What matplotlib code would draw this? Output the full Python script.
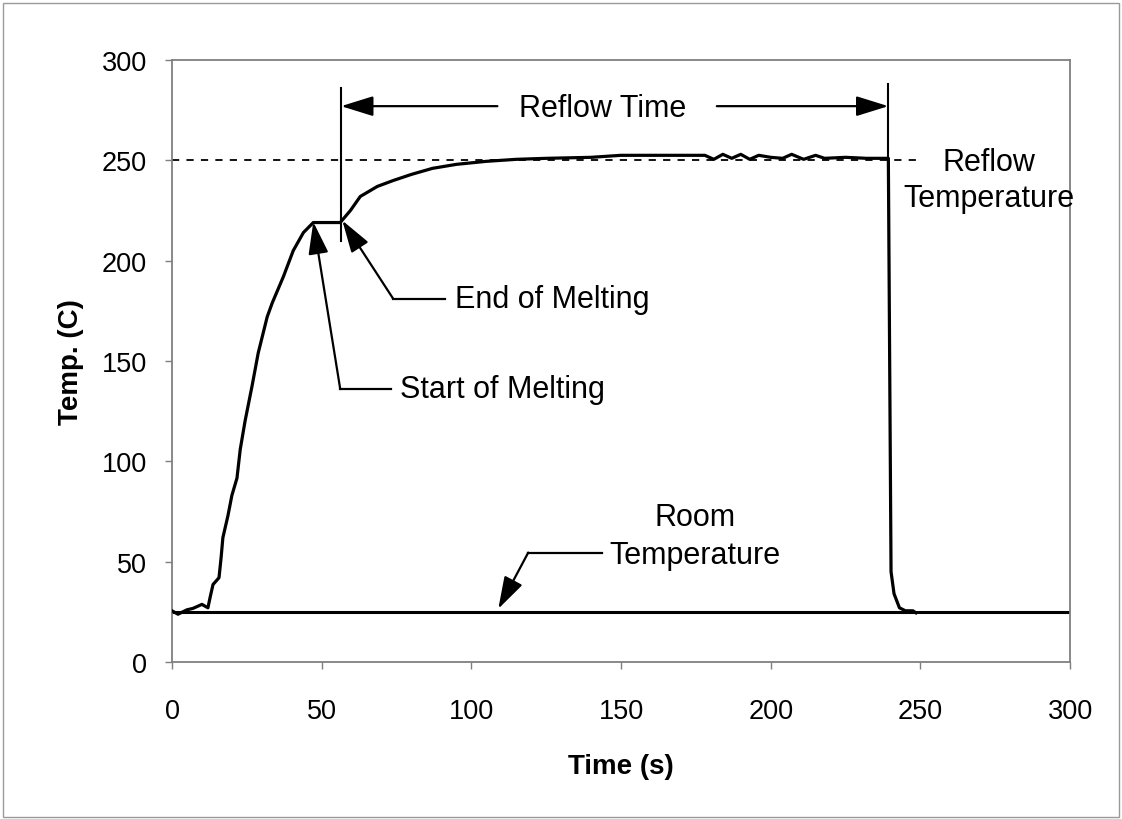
import matplotlib.pyplot as plt
from matplotlib.patches import Rectangle

# Reflow profile (time in s, temperature in C)
time_s = [0, 2, 5, 7, 10, 12, 12.7, 13.7, 15.7, 16.4, 17, 18.7, 20, 21.7, 22.8, 24.4,
          26.8, 28.8, 31.8, 33.5, 37.2, 40.5, 43.9, 47.2, 56.2, 59.6, 62.9, 68.6, 74,
          80, 87, 95, 105, 115, 125, 140, 150, 165, 178, 181, 184, 187, 190, 193, 196,
          200, 204, 207, 211, 215, 218, 225, 232, 239.3, 240.2, 241.2, 243, 245, 247.5,
          248.5]
temp_c = [25.5, 23.8, 26, 26.7, 28.7, 27, 32, 38.6, 42, 52, 62, 73, 83, 91.6, 106, 120,
          138, 154, 172, 179, 192, 205, 214, 219, 219, 225, 232, 237, 240,
          243, 246, 248, 249.5, 250.5, 251, 251.5, 252.5, 252.5, 252.5, 250.5, 253, 251,
          253, 250.5, 252.5, 251.5, 251, 253, 250.5, 252.5, 251, 251.5, 251, 251, 45,
          34, 27, 25.5, 25.5, 24.5]

room_temp = 25
reflow_temp = 250
reflow_start = 56.5
reflow_end = 239.3

x_ticks = [0, 50, 100, 150, 200, 250, 300]
y_ticks = [0, 50, 100, 150, 200, 250, 300]

# annotation anchors: (arrow tip, elbow, end of leader line, label start)
start_melt = [(47.2, 219.3), (56.2, 136), (73, 136), (76, 136)]
end_melt = [(56.9, 220), (73.9, 181), (91.3, 181), (94.6, 181)]
room_label = [(109, 26.5), (119, 54.5), (143.8, 54.5), (174.6, 62)]

plt.rcParams['font.family'] = ['Liberation Sans', 'DejaVu Sans']

fig = plt.figure(figsize=(11.22, 8.2), dpi=100)
ax = fig.add_axes([0.1533, 0.1915, 0.8004, 0.7341])

# figure border
fig.patches.append(Rectangle((0.003, 0.003), 0.994, 0.992, transform=fig.transFigure,
                             fill=False, edgecolor='#9a9a9a', lw=1.0))

ax.plot(time_s, temp_c, color='black', lw=2.3, solid_joinstyle='round', zorder=3)
ax.plot([0, 300], [room_temp, room_temp], color='black', lw=2.2, zorder=2)
ax.plot([0, 250], [reflow_temp, reflow_temp], color='black', lw=1.3,
        linestyle=(0, (4, 4)), zorder=2)

# reflow time markers
ax.plot([reflow_start, reflow_start], [210, 286], color='black', lw=1.5)
ax.plot([reflow_end, reflow_end], [251, 288], color='black', lw=1.5)

arrow = dict(arrowstyle='-|>,head_length=0.9,head_width=0.28', mutation_scale=22,
             lw=1.6, color='black', shrinkA=0, shrinkB=0)
ax.annotate('', xy=(reflow_start, 277), xytext=(108.7, 277), arrowprops=arrow)
ax.annotate('', xy=(reflow_end, 277), xytext=(182, 277), arrowprops=arrow)
ax.text(144, 276, 'Reflow Time', fontsize=22, ha='center', va='center')

ax.text(273, 249, 'Reflow', fontsize=22, ha='center', va='center')
ax.text(273, 231, 'Temperature', fontsize=22, ha='center', va='center')

# elbow annotations
for pts, label in [(start_melt, 'Start of Melting'), (end_melt, 'End of Melting')]:
    tip, elbow, line_end, txt = pts
    ax.annotate('', xy=tip, xytext=elbow, arrowprops=arrow)
    ax.plot([elbow[0], line_end[0]], [elbow[1], line_end[1]], color='black', lw=1.6)
    ax.text(txt[0], txt[1], label, fontsize=22, ha='left', va='center')

tip, elbow, line_end, txt = room_label
ax.annotate('', xy=tip, xytext=elbow, arrowprops=arrow)
ax.plot([elbow[0], line_end[0]], [elbow[1], line_end[1]], color='black', lw=1.6)
ax.text(txt[0], 72, 'Room', fontsize=22, ha='center', va='center')
ax.text(txt[0], 53.5, 'Temperature', fontsize=22, ha='center', va='center')

ax.set_xlim(0, 300)
ax.set_ylim(0, 300)
ax.set_xticks(x_ticks)
ax.set_yticks(y_ticks)
ax.tick_params(direction='out', length=5, width=1, color='#7f7f7f', labelsize=19.5, pad=13)
ax.tick_params(axis='x', pad=21)
for side in ax.spines.values():
    side.set_color('#7f7f7f')
    side.set_linewidth(1.3)

ax.set_xlabel('Time (s)', fontsize=20, fontweight='bold', labelpad=21)
ax.set_ylabel('Temp. (C)', fontsize=20, fontweight='bold', labelpad=13)

fig.savefig('out.png', dpi=100)
